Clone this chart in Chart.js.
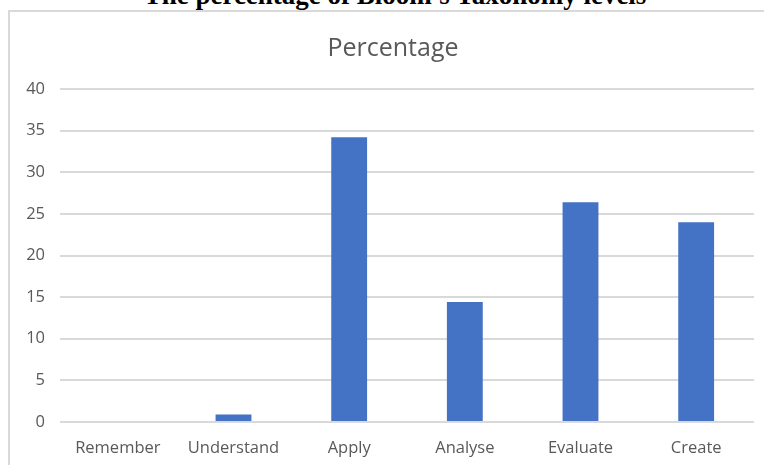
<!DOCTYPE html>
<html>
<head>
<meta charset="utf-8">
<script src="https://cdn.jsdelivr.net/npm/chart.js@4/dist/chart.umd.min.js"></script>
<style>
  html, body { margin: 0; padding: 0; background: #fff; overflow: hidden; }
  #wrap { position: relative; width: 764px; height: 465px; overflow: hidden; }
  #heading {
    position: absolute; left: 13px; top: -18px; width: 764px; text-align: center;
    font-family: "Liberation Serif", "Times New Roman", serif; font-weight: bold;
    font-size: 27px; color: #000; line-height: 27px; white-space: nowrap;
  }
  #frame {
    position: absolute; left: 8px; top: 10px; width: 800px; height: 500px;
    border: 2px solid #d9d9d9; box-sizing: border-box;
  }
  #chart { position: absolute; left: 0; top: 0; }
</style>
</head>
<body>
<div id="wrap">
  <div id="frame"></div>
  <div id="heading">The percentage of Bloom's Taxonomy levels</div>
  <canvas id="chart" width="786" height="465"></canvas>
</div>
<script>
// Bloom's taxonomy levels and the share of items at each level
const levels = ["Remember", "Understand", "Apply", "Analyse", "Evaluate", "Create"];
const percentages = [0, 0.9, 34.2, 14.4, 26.4, 24.0];
const yTicks = [0, 5, 10, 15, 20, 25, 30, 35, 40];

const textGrey = "#595959";
const fontFamily = "'Open Sans', 'Liberation Sans', sans-serif";

new Chart(document.getElementById("chart"), {
  type: "bar",
  data: {
    labels: levels,
    datasets: [{
      label: "Percentage",
      data: percentages,
      backgroundColor: "#4472c4",
      borderWidth: 0,
      barPercentage: 0.31,
      categoryPercentage: 1.0
    }]
  },
  options: {
    responsive: false,
    animation: false,
    layout: { padding: 0 },
    plugins: {
      legend: { display: false },
      tooltip: { enabled: false },
      title: {
        display: true,
        text: "Percentage",
        color: textGrey,
        font: { family: fontFamily, size: 25, weight: "normal", lineHeight: 1.2 },
        padding: { top: 34, bottom: 25 }
      }
    },
    scales: {
      x: {
        grid: { display: false, drawTicks: false },
        border: { display: false },
        ticks: {
          color: textGrey,
          font: { family: fontFamily, size: 16.5 },
          padding: 16,
          maxRotation: 0
        },
        afterFit: s => { s.height = 43; }
      },
      y: {
        min: 0,
        max: 40,
        afterBuildTicks: s => { s.ticks = yTicks.map(v => ({ value: v })); },
        grid: { color: "#d9d9d9", lineWidth: 2, drawTicks: false },
        border: { display: false },
        ticks: {
          color: textGrey,
          font: { family: fontFamily, size: 16.5 },
          padding: 15
        },
        afterFit: s => { s.width = 60; }
      },
      // empty margin on the right of the plot area
      yRight: {
        type: "linear",
        position: "right",
        grid: { display: false, drawTicks: false },
        border: { display: false },
        ticks: { display: false },
        afterFit: s => { s.width = 32; }
      }
    }
  }
});
</script>
</body>
</html>
